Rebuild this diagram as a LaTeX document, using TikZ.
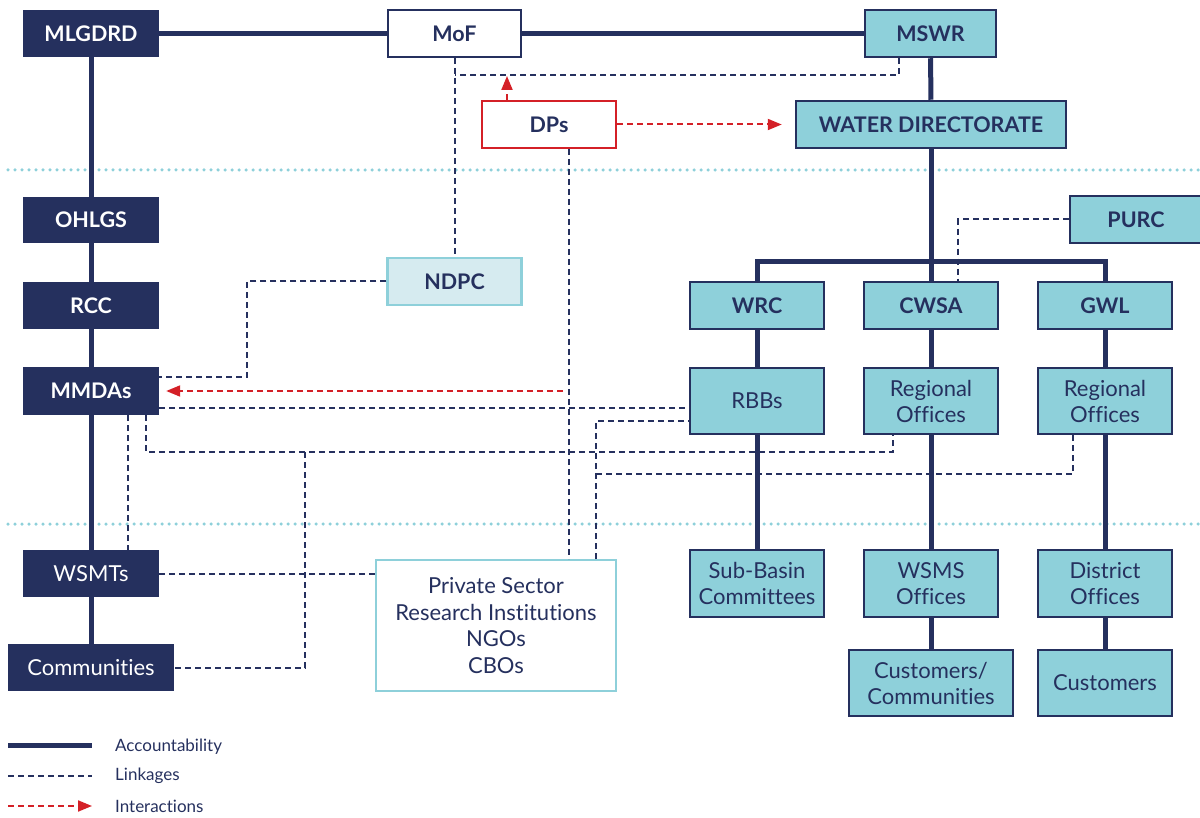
\documentclass[tikz,border=0pt]{standalone}
\usepackage{fontspec}
\setmainfont{Lato}[Ligatures=NoCommon]
\usetikzlibrary{arrows.meta}
\definecolor{navy}{HTML}{25305E}
\definecolor{teal}{HTML}{8ED0DA}
\definecolor{lteal}{HTML}{D6EBF0}
\definecolor{dred}{HTML}{D42027}
\tikzset{
  box/.style={rectangle, inner sep=0pt, align=center, font=\fontsize{22}{26}\selectfont, text=navy},
  darkbox/.style={box, fill=navy, text=white},
  tealbox/.style={box, fill=teal, draw=navy, line width=2.5pt},
  whitebox/.style={box, fill=white, draw=navy, line width=2pt},
  bld/.style={font=\fontsize{21.5}{25}\selectfont\bfseries},
  acc/.style={draw=navy, line width=5pt},
  link/.style={draw=navy, line width=2pt, dash pattern=on 6pt off 4pt},
  inter/.style={draw=dred, line width=2pt, dash pattern=on 6pt off 4pt, -{Triangle[length=14pt,width=11pt]}},
  sep/.style={draw=teal, line width=3.5pt, dash pattern=on 0pt off 7pt, line cap=round},
  legtext/.style={anchor=west, text=navy, font=\fontsize{17}{20}\selectfont, inner sep=0pt}
}
\begin{document}
\begin{tikzpicture}[x=1pt,y=-1pt]
\useasboundingbox (0,0) rectangle (1200,818);
% separators
\draw[sep] (8,170) -- (1200,170);
\draw[sep] (8,524) -- (1200,524);
% nodes
\node[darkbox,bld,minimum width=136,minimum height=47] (mlgdrd) at (91,33.5) {MLGDRD};
\node[whitebox,bld,minimum width=133,minimum height=47] (mof) at (454.5,33.5) {MoF};
\node[tealbox,bld,minimum width=131,minimum height=47] (mswr) at (930.5,33.5) {MSWR};
\node[box,bld,fill=white,draw=dred,line width=2pt,minimum width=134,minimum height=47] (dps) at (549,124.5) {DPs};
\node[tealbox,bld,minimum width=270,minimum height=47] (wd) at (931,124.5) {WATER DIRECTORATE};
\node[darkbox,bld,minimum width=136,minimum height=46] (ohlgs) at (91,220) {OHLGS};
\node[box,bld,fill=lteal,draw=teal,line width=2.5pt,minimum width=134,minimum height=47] (ndpc) at (454.5,281.5) {NDPC};
\node[tealbox,bld,minimum width=132,minimum height=47] (purc) at (1136,219.5) {PURC};
\node[darkbox,bld,minimum width=136,minimum height=47] (rcc) at (91,305.5) {RCC};
\node[tealbox,bld,minimum width=134,minimum height=47] (wrc) at (757,305.5) {WRC};
\node[tealbox,bld,minimum width=134,minimum height=47] (cwsa) at (931,305.5) {CWSA};
\node[tealbox,bld,minimum width=134,minimum height=47] (gwl) at (1105,305.5) {GWL};
\node[darkbox,bld,minimum width=136,minimum height=48] (mmdas) at (91,391) {MMDAs};
\node[tealbox,minimum width=134,minimum height=66] (rbbs) at (757,401) {RBBs};
\node[tealbox,minimum width=134,minimum height=66] (ro1) at (931,401) {Regional\\Offices};
\node[tealbox,minimum width=134,minimum height=66] (ro2) at (1105,401) {Regional\\Offices};
\node[darkbox,minimum width=136,minimum height=47] (wsmts) at (91,573.5) {WSMTs};
\node[darkbox,minimum width=166,minimum height=47] (communities) at (91,667.5) {Communities};
\node[box,fill=white,draw=teal,line width=2pt,minimum width=240,minimum height=131,font=\fontsize{22}{26.5}\selectfont] (priv) at (496,625.5) {Private Sector\\Research Institutions\\NGOs\\CBOs};
\node[tealbox,minimum width=134,minimum height=67] (subbasin) at (757,583.5) {Sub-Basin\\Committees};
\node[tealbox,minimum width=134,minimum height=67] (wsms) at (931,583.5) {WSMS\\Offices};
\node[tealbox,minimum width=134,minimum height=67] (district) at (1105,583.5) {District\\Offices};
\node[tealbox,minimum width=164,minimum height=66] (custcomm) at (931,683) {Customers/\\Communities};
\node[tealbox,minimum width=134,minimum height=66] (customers) at (1105,683) {Customers};
% accountability lines
\draw[acc] (mlgdrd) -- (mof);
\draw[acc] (mof) -- (mswr);
\draw[acc] (mlgdrd) -- (ohlgs);
\draw[acc] (ohlgs) -- (rcc);
\draw[acc] (rcc) -- (mmdas);
\draw[acc] (mmdas) -- (wsmts);
\draw[acc] (wsmts) -- (communities);
\draw[acc] (mswr) -- (wd);
\draw[acc] (wd) -- (cwsa);
\coordinate (junc) at (931,262);
\draw[acc] (wrc.north) -- (wrc.north |- junc) -- (gwl.north |- junc) -- (gwl.north);
\draw[acc] (wrc) -- (rbbs);
\draw[acc] (rbbs) -- (subbasin);
\draw[acc] (cwsa) -- (ro1);
\draw[acc] (ro1) -- (wsms);
\draw[acc] (wsms) -- (custcomm);
\draw[acc] (gwl) -- (ro2);
\draw[acc] (ro2) -- (district);
\draw[acc] (district) -- (customers);
% linkages
\coordinate (m1) at (454.5,75);
\draw[link] (mof) -- (ndpc);
\draw[link] ([xshift=-31.5pt]mswr.south) |- (m1);
\draw[link] ([xshift=20pt]dps.south) -- ([xshift=20pt]dps.south |- priv.north);
\draw[link] (ndpc.west) -| (247,377) -- ([yshift=14pt]mmdas.east);
\draw[link] ([yshift=-17pt]mmdas.east) -- ([yshift=-17pt]mmdas.east -| rbbs.west);
\draw[link] ([xshift=55pt]mmdas.south) -- ++(0,37) -| ([xshift=-38pt]ro1.south);
\draw[link] ([xshift=37pt]mmdas.south) -- ([xshift=37pt]wsmts.north);
\coordinate (c305) at (305,452);
\draw[link] (c305) |- (communities.east);
\draw[link] (wsmts.east) -- (wsmts.east -| priv.west);
\draw[link] ([xshift=100pt]priv.north) |- ([yshift=-20pt]rbbs.west);
\coordinate (c596) at (596,474);
\draw[link] (c596) -| ([xshift=-32pt]ro2.south);
\draw[link] (purc.west) -| ([xshift=27pt]cwsa.north);
% interactions
\draw[inter] ([xshift=-42pt]dps.north) -- ([xshift=-42pt,yshift=-1pt]dps.north |- m1);
\draw[inter] (dps.east) -- ([xshift=-13pt]wd.west);
\coordinate (r1) at (563,391);
\draw[inter] (r1) -- ([xshift=7pt]mmdas.east);
% legend
\coordinate (l1) at (8,745); \coordinate (l1e) at (92,745);
\coordinate (l2) at (8,776); \coordinate (l2e) at (92,776);
\coordinate (l3) at (8,806); \coordinate (l3e) at (92,806);
\draw[acc] (l1) -- (l1e);
\draw[link] (l2) -- (l2e);
\draw[inter] (l3) -- (l3e);
\node[legtext] (t1) at (115,747) {Accountability};
\node[legtext] (t2) at (115,776) {Linkages};
\node[legtext] (t3) at (115,806) {Interactions};
\end{tikzpicture}
\end{document}
